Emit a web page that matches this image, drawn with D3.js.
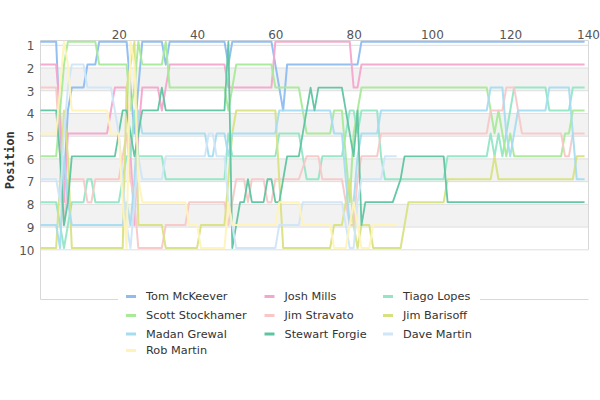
<!DOCTYPE html>
<html><head><meta charset="utf-8">
<script src="https://cdn.jsdelivr.net/npm/d3@7"></script>
<style>body{margin:0;background:#fff}svg{display:block}</style>
</head><body><div id="chart"></div>
<script>
// ---- data: [lap, position] key points (lines run straight between them) ----
const drivers = ["Tom McKeever","Josh Mills","Tiago Lopes","Scott Stockhamer","Jim Stravato","Jim Barisoff","Madan Grewal","Stewart Forgie","Dave Martin","Rob Martin"];
const colors = ["#8dbcf0","#f4a6cc","#92e6c6","#a8ea98","#f8c8c8","#d8e182","#a6dcf0","#5ec4a0","#cfe6f8","#fff3b8"];
const xTicks = [20,40,60,80,100,120,140];
const yTicks = [1,2,3,4,5,6,7,8,9,10];

const tomMcKeever = [[0,1],[4,1],[5,5],[6,7],[7,4],[8,3],[11,3],[12,2],[14,2],[15,1],[22,1],[23,3],[24,5],[25,3],[26,1],[31,1],[32,2],[33,1],[47,1],[48,2],[49,1],[59,1],[60,2],[61,3],[62,4],[63,2],[81,2],[82,1],[139,1]];
const joshMills = [[0,2],[4,2],[5,4],[6,8],[7,5],[17,5],[18,4],[19,3],[22,3],[23,6],[24,9],[25,5],[26,3],[30,3],[31,4],[32,3],[33,2],[47,2],[48,3],[59,3],[60,1],[79,1],[80,3],[81,3],[82,2],[139,2]];
const tiagoLopes = [[0,8],[4,8],[5,9],[6,10],[7,9],[8,8],[11,8],[12,7],[13,7],[14,8],[20,8],[21,7],[22,6],[23,6],[24,4],[25,6],[31,6],[32,7],[47,7],[48,5],[49,6],[60,6],[61,5],[66,5],[67,6],[68,7],[71,7],[72,6],[77,6],[78,5],[79,4],[80,4],[81,5],[82,4],[86,4],[87,6],[88,7],[103,7],[104,6],[114,6],[115,5],[116,6],[117,5],[118,6],[119,5],[120,4],[121,3],[129,3],[130,4],[135,4],[136,3],[139,3]];
const scottStockhamer = [[0,6],[4,6],[5,4],[6,2],[7,1],[14,1],[15,2],[22,2],[23,4],[24,3],[25,1],[26,2],[31,2],[32,1],[33,3],[47,3],[48,4],[49,3],[50,2],[59,2],[60,3],[66,3],[67,4],[68,5],[74,5],[75,4],[77,4],[78,6],[79,8],[80,5],[81,4],[82,3],[114,3],[115,4],[116,5],[117,4],[118,5],[119,6],[120,5],[121,6],[133,6],[134,5],[135,5],[136,4],[139,4]];
const jimStravato = [[0,3],[4,3],[5,6],[6,9],[7,7],[11,7],[12,8],[13,8],[14,7],[20,7],[21,6],[22,5],[23,7],[24,8],[25,10],[31,10],[32,9],[37,9],[38,8],[47,8],[48,9],[49,8],[50,7],[52,7],[53,8],[54,7],[57,7],[58,8],[59,8],[60,7],[66,7],[68,6],[71,6],[72,7],[77,7],[78,8],[79,9],[80,9],[81,7],[82,6],[86,6],[87,5],[114,5],[115,4],[118,4],[119,3],[121,3],[122,4],[123,5],[133,5],[134,6],[135,6],[136,5],[139,5]];
const jimBarisoff = [[0,10],[4,10],[5,7],[6,4],[7,6],[8,10],[21,10],[22,3],[23,2],[24,1],[25,9],[31,9],[32,10],[40,10],[41,9],[47,9],[48,7],[49,5],[50,4],[60,4],[61,7],[62,10],[74,10],[75,9],[77,9],[78,8],[79,7],[80,9],[81,10],[82,9],[84,9],[85,10],[92,10],[93,9],[94,8],[103,8],[104,7],[115,7],[116,6],[117,7],[135,7],[136,7],[137,6],[139,6]];
const madanGrewal = [[0,9],[4,9],[5,10],[6,6],[7,8],[8,9],[21,9],[22,8],[23,9],[24,7],[25,4],[26,5],[42,5],[43,6],[44,6],[45,5],[47,5],[48,6],[49,5],[60,5],[61,4],[74,4],[75,5],[77,5],[78,7],[79,9],[80,8],[81,6],[82,5],[86,5],[87,4],[114,4],[115,3],[118,3],[119,5],[120,6],[121,5],[122,4],[129,4],[130,3],[135,3],[136,5],[137,7],[139,7]];
const stewartForgie = [[0,4],[4,4],[5,6],[6,9],[7,8],[8,6],[19,6],[20,5],[21,4],[22,4],[23,5],[24,6],[25,5],[26,4],[30,4],[31,3],[32,4],[47,4],[48,1],[49,10],[50,9],[51,8],[52,8],[53,7],[54,8],[57,8],[58,7],[59,7],[60,8],[61,8],[62,7],[63,6],[66,6],[67,5],[68,4],[69,3],[70,4],[71,3],[77,3],[78,4],[79,5],[80,6],[81,4],[82,9],[83,8],[90,8],[92,7],[93,6],[103,6],[104,8],[139,8]];
const daveMartin = [[0,7],[4,7],[5,8],[6,5],[7,3],[8,2],[11,2],[12,3],[18,3],[19,4],[20,5],[21,7],[22,9],[23,10],[24,8],[25,6],[26,7],[31,7],[32,6],[42,6],[43,5],[44,5],[45,6],[47,6],[48,8],[49,9],[50,10],[60,10],[61,9],[66,9],[67,8],[77,8],[78,9],[79,10],[80,10],[81,8],[82,7],[87,7],[88,6],[91,6]];
const robMartin = [[0,5],[4,5],[5,3],[6,1],[7,2],[8,4],[17,4],[18,5],[20,5],[21,8],[22,10],[23,1],[24,2],[25,7],[26,8],[37,8],[38,9],[40,9],[41,10],[47,10],[48,8],[49,9],[60,9],[61,8],[66,8],[67,9],[74,9],[75,10],[78,10],[79,9],[80,8],[81,9],[82,10],[84,10],[85,9],[91,9]];

const series = [tomMcKeever, joshMills, tiagoLopes, scottStockhamer, jimStravato, jimBarisoff, madanGrewal, stewartForgie, daveMartin, robMartin];

// ---- layout ----
const W = 600, H = 400;
const L = 40.5, R = 588.5, T = 40.5, B = 299.5;
const svg = d3.select("#chart").append("svg").attr("width", W).attr("height", H);

const x = d3.scaleLinear().domain([0, 140]).range([L, R]);
const yGrid = d3.scaleLinear().domain([1, 10]).range([45.3, 249.8]);
const y = d3.scaleLinear().domain([1, 10]).range([41.7, 248]);

// bands
[2,4,6,8].forEach(p => {
  svg.append("rect").attr("x", L).attr("width", R - L)
    .attr("y", yGrid(p)).attr("height", yGrid(p + 1) - yGrid(p))
    .attr("fill", "#f2f2f2");
});
// grid lines
svg.append("g").selectAll("line").data(yTicks).join("line")
  .attr("x1", L).attr("x2", R).attr("y1", d => yGrid(d)).attr("y2", d => yGrid(d))
  .attr("stroke", "#dedede").attr("stroke-width", 1);

// frame
svg.append("line").attr("x1", L).attr("x2", R).attr("y1", T).attr("y2", T).attr("stroke", "#d8d8d8");
svg.append("line").attr("x1", L).attr("x2", L).attr("y1", T).attr("y2", B).attr("stroke", "#d8d8d8");
svg.append("line").attr("x1", R).attr("x2", R).attr("y1", T).attr("y2", yGrid(10)).attr("stroke", "#d8d8d8");
svg.append("line").attr("x1", L).attr("x2", R).attr("y1", B).attr("y2", B).attr("stroke", "#d8d8d8");

// axes
const xAxis = svg.append("g").attr("transform", `translate(0,${T - 2})`)
  .call(d3.axisTop(x).tickValues(xTicks).tickSize(0).tickPadding(0));
xAxis.select(".domain").remove();
xAxis.selectAll("text").attr("font-family", "DejaVu Sans").attr("font-size", 12).attr("fill", "#555");
xAxis.selectAll(".tick").filter(d => d === 140).select("text").attr("text-anchor", "end").attr("dx", "11px");

const yAxis = svg.append("g").attr("transform", `translate(${L - 6},0)`)
  .call(d3.axisLeft(yGrid).tickValues(yTicks).tickSize(0).tickPadding(0));
yAxis.select(".domain").remove();
yAxis.selectAll("text").attr("font-family", "DejaVu Sans").attr("font-size", 12).attr("fill", "#555").attr("dy", "0.36em");

svg.append("text").attr("transform", `translate(14,${(T + 280) / 2}) rotate(-90)`)
  .attr("text-anchor", "middle").attr("font-family", "DejaVu Sans Mono").attr("font-weight", "bold")
  .attr("font-size", 12).attr("fill", "#333").text("Position");

// lines
const line = d3.line().x(d => x(d[0])).y(d => y(d[1]));
const plot = svg.append("g");
series.forEach((s, i) => {
  plot.append("path").datum(s).attr("d", line)
    .attr("fill", "none").attr("stroke", colors[i])
    .attr("stroke-width", i === 7 ? 1.8 : 2).attr("stroke-linejoin", "round")
    .attr("opacity", 0.95);
});

// legend
const lg = svg.append("g");
lg.append("rect").attr("x", 118).attr("y", 286).attr("width", 362).attr("height", 74).attr("fill", "#fff");
const colX = [126, 264.5, 383];
const rowY = [296.5, 315.5, 334, 350.5];
drivers.forEach((name, i) => {
  const cx = colX[i % 3], cy = rowY[Math.floor(i / 3)];
  lg.append("line").attr("x1", cx).attr("x2", cx + 10).attr("y1", cy).attr("y2", cy)
    .attr("stroke", colors[i]).attr("stroke-width", 3);
  lg.append("text").attr("x", cx + 20).attr("y", cy).attr("dy", "0.35em")
    .attr("font-family", "DejaVu Sans").attr("font-size", 11.3).attr("fill", "#333").text(name);
});
</script></body></html>
